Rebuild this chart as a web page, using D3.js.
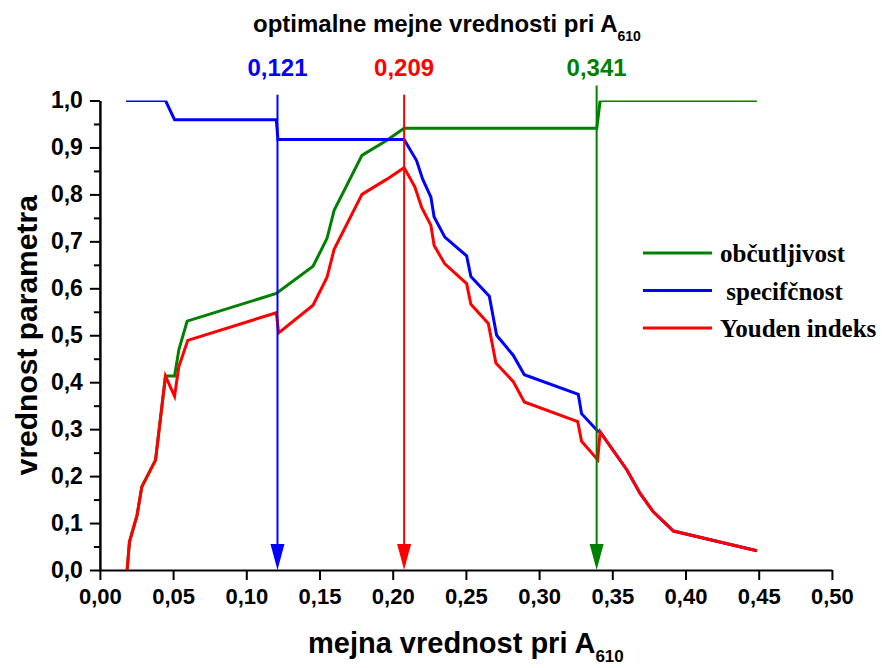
<!DOCTYPE html>
<html>
<head>
<meta charset="utf-8">
<script src="https://cdn.jsdelivr.net/npm/d3@7"></script>
<style>
  html, body { margin: 0; padding: 0; background: #fff; }
  svg { display: block; }
  .sans { font-family: "Liberation Sans", Arial, sans-serif; font-weight: bold; }
  .serif { font-family: "Liberation Serif", "Times New Roman", serif; font-weight: bold; }
</style>
</head>
<body>
<svg id="chart" width="885" height="668"></svg>
<script>
// ---------------- data ----------------
const obcutljivost = [
  [0.0186,0.000],[0.0202,0.060],[0.0254,0.117],[0.0286,0.177],[0.0380,0.234],
  [0.0448,0.413],[0.0510,0.413],[0.0540,0.470],[0.0596,0.530],[0.1205,0.589],
  [0.1456,0.647],[0.1551,0.706],[0.1600,0.766],[0.1790,0.883],[0.1958,0.915],
  [0.2078,0.941],[0.3394,0.941],[0.3417,1.000],[0.4488,1.000]
];
const specificnost = [
  [0.0179,1.000],[0.0448,1.000],[0.0510,0.959],[0.1205,0.959],[0.1216,0.917],
  [0.2078,0.917],[0.2163,0.872],[0.2204,0.833],[0.2261,0.794],[0.2283,0.752],
  [0.2356,0.709],[0.2505,0.669],[0.2534,0.625],[0.2660,0.583],[0.2710,0.500],
  [0.2824,0.457],[0.2899,0.416],[0.3268,0.374],[0.3290,0.333],[0.3400,0.296],
  [0.3417,0.294],[0.3600,0.213],[0.3690,0.163],[0.3780,0.124],[0.3918,0.083],
  [0.4488,0.041]
];
const youden = [
  [0.0186,0.000],[0.0202,0.060],[0.0254,0.117],[0.0286,0.177],[0.0380,0.234],
  [0.0448,0.413],[0.0510,0.370],[0.0539,0.433],[0.0600,0.489],[0.1205,0.548],
  [0.1221,0.505],[0.1456,0.564],[0.1551,0.623],[0.1600,0.683],[0.1790,0.800],
  [0.1958,0.832],[0.2078,0.857],[0.2151,0.816],[0.2197,0.773],[0.2261,0.734],
  [0.2283,0.691],[0.2356,0.652],[0.2505,0.610],[0.2534,0.566],[0.2653,0.525],
  [0.2705,0.441],[0.2824,0.401],[0.2899,0.358],[0.3264,0.316],[0.3290,0.274],
  [0.3400,0.235],[0.3417,0.294],[0.3600,0.213],[0.3690,0.163],[0.3780,0.124],
  [0.3918,0.083],[0.4488,0.041]
];
const seriesNames  = ["občutljivost", " specifčnost", "Youden indeks"];
const seriesColors = ["#008000", "#0000ff", "#ff0000"];

const cutoffPositions = [0.1213, 0.2078, 0.3393];
const cutoffLabels    = ["0,121", "0,209", "0,341"];
const cutoffColors    = ["#0000ff", "#ff0000", "#008000"];
const cutoffTops      = [1.012, 1.012, 1.032];

const xTickValues = [0,0.05,0.10,0.15,0.20,0.25,0.30,0.35,0.40,0.45,0.50];
const xTickLabels = ["0,00","0,05","0,10","0,15","0,20","0,25","0,30","0,35","0,40","0,45","0,50"];
const yTickValues = [0,0.1,0.2,0.3,0.4,0.5,0.6,0.7,0.8,0.9,1.0];
const yTickLabels = ["0,0","0,1","0,2","0,3","0,4","0,5","0,6","0,7","0,8","0,9","1,0"];
const yMinorValues = [0.05,0.15,0.25,0.35,0.45,0.55,0.65,0.75,0.85,0.95];

const titleText = "optimalne mejne vrednosti pri A";
const titleSub = "610";
const xTitleText = "mejna vrednost pri A";
const xTitleSub = "610";
const yTitleText = "vrednost parametra";

// ---------------- drawing ----------------
const svg = d3.select("#chart");
const x = d3.scaleLinear().domain([0, 0.5]).range([99.9, 831.9]);
const y = d3.scaleLinear().domain([0, 1]).range([570, 100.5]);

svg.append("defs").append("clipPath").attr("id", "plotclip")
  .append("rect")
  .attr("x", x(0)).attr("y", y(1))
  .attr("width", x(0.5) - x(0)).attr("height", y(0) - y(1) + 2);

// axes
const gx = svg.append("g").attr("transform", `translate(0,${y(0)})`)
  .call(d3.axisBottom(x).tickValues(xTickValues)
    .tickFormat((d, i) => xTickLabels[i]).tickSize(10).tickSizeOuter(0).tickPadding(8));
const gyMinor = svg.append("g").attr("transform", `translate(${x(0)},0)`)
  .call(d3.axisLeft(y).tickValues(yMinorValues).tickFormat("").tickSize(6).tickSizeOuter(0));
const gy = svg.append("g").attr("transform", `translate(${x(0)},0)`)
  .call(d3.axisLeft(y).tickValues(yTickValues)
    .tickFormat((d, i) => yTickLabels[i]).tickSize(10).tickSizeOuter(0).tickPadding(7));

[gx, gy, gyMinor].forEach(g => {
  g.selectAll("path, line").attr("stroke", "#000").attr("stroke-width", 2);
  g.selectAll("text").attr("class", "sans").attr("fill", "#000")
    .style("font-size", "22px");
});
gy.selectAll("text").style("font-size", "23px");

// curves
const line = d3.line().x(d => x(d[0])).y(d => y(d[1]));
const curves = svg.append("g").attr("clip-path", "url(#plotclip)");
[obcutljivost, specificnost, youden].forEach((data, i) => {
  curves.append("path").datum(data)
    .attr("d", line)
    .attr("fill", "none")
    .attr("stroke", seriesColors[i])
    .attr("stroke-width", 3)
    .attr("stroke-linejoin", "miter");
});

// cutoff markers
const arrowH = 26, arrowW = 7;
cutoffPositions.forEach((v, i) => {
  const cx = x(v);
  svg.append("line")
    .attr("x1", cx).attr("x2", cx)
    .attr("y1", y(cutoffTops[i])).attr("y2", y(0) - arrowH + 2)
    .attr("stroke", cutoffColors[i]).attr("stroke-width", 2);
  svg.append("path")
    .attr("d", `M${cx - arrowW},${y(0) - arrowH} L${cx + arrowW},${y(0) - arrowH} L${cx},${y(0)} Z`)
    .attr("fill", cutoffColors[i]);
  svg.append("text").attr("class", "sans")
    .attr("x", cx).attr("y", 76)
    .attr("text-anchor", "middle")
    .attr("fill", cutoffColors[i])
    .style("font-size", "24px")
    .text(cutoffLabels[i]);
});

// title
const t = svg.append("text").attr("class", "sans")
  .attr("x", 253).attr("y", 32).style("font-size", "24px").attr("fill", "#000");
t.append("tspan").text(titleText);
t.append("tspan").attr("dy", 9).style("font-size", "14px").text(titleSub);

// x title
const xt = svg.append("text").attr("class", "sans")
  .attr("x", 308).attr("y", 653).style("font-size", "29px").attr("fill", "#000");
xt.append("tspan").text(xTitleText);
xt.append("tspan").attr("dy", 9).style("font-size", "17px").text(xTitleSub);

// y title
svg.append("text").attr("class", "sans")
  .attr("transform", `translate(37,${y(0.5)}) rotate(-90)`)
  .attr("text-anchor", "middle")
  .style("font-size", "30px").attr("fill", "#000")
  .text(yTitleText);

// legend
const legendY = [253, 290.5, 328];
seriesNames.forEach((name, i) => {
  svg.append("line")
    .attr("x1", 643).attr("x2", 712)
    .attr("y1", legendY[i]).attr("y2", legendY[i])
    .attr("stroke", seriesColors[i]).attr("stroke-width", 3);
  svg.append("text").attr("class", "serif")
    .attr("x", 720).attr("y", legendY[i] + 9)
    .style("font-size", "25px")
    .style("white-space", "pre")
    .attr("xml:space", "preserve")
    .attr("fill", "#000")
    .text(name);
});
</script>
</body>
</html>
